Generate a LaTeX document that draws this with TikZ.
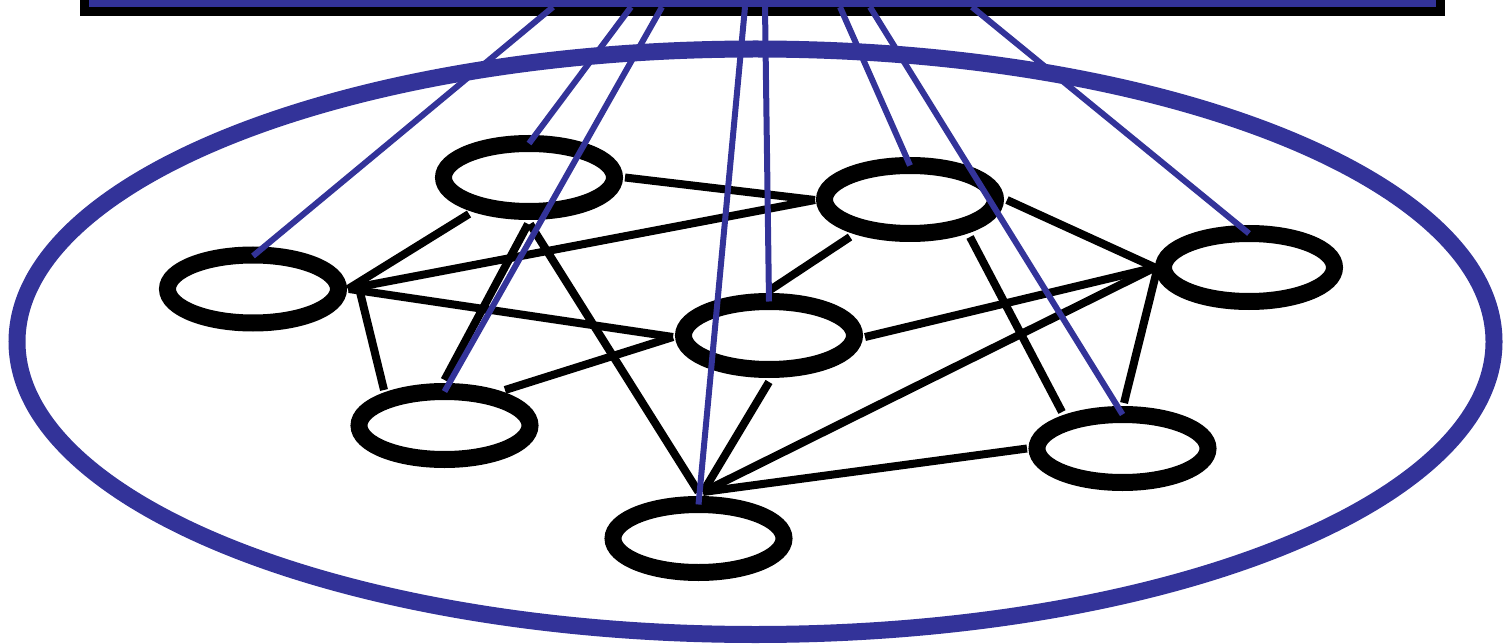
\documentclass[tikz,border=0pt]{standalone}
\usetikzlibrary{shapes.geometric,calc}
\definecolor{netblue}{RGB}{51,51,153}
\tikzset{
  host/.style={draw=black, ellipse, line width=17pt, minimum width=171pt, minimum height=68pt, inner sep=0pt},
  link/.style={draw=black, line width=8pt},
  tie/.style={draw=netblue, line width=6pt},
}
\begin{document}
\begin{tikzpicture}[x=1pt,y=-1pt]
\clip (0,0) rectangle (1504,644);
% big network ellipse
\node[draw=netblue, line width=17pt, ellipse, minimum width=1477pt, minimum height=585.5pt, inner sep=0pt] (net) at (755.5,341.75) {};
% top bar
\node[draw=black, fill=netblue, line width=9pt, rectangle, minimum width=1356pt, minimum height=60pt, inner sep=0pt, outer sep=0pt, anchor=south] (bar) at (762.5,11.3) {};
% hosts
\node[host] (A) at (253,289) {};
\node[host] (B) at (529,177.5) {};
\node[host] (C) at (910,199.5) {};
\node[host] (D) at (1249,267.5) {};
\node[host] (E) at (769,335.5) {};
\node[host] (F) at (444.5,425.5) {};
\node[host] (G) at (1122.5,448.5) {};
\node[host] (H) at (698.5,538.5) {};
% links
\draw[link] ($(B)+(96,0)$) -- ($(C)+(-95,0.5)$);
\draw[link] ($(B)+(-60,36.5)$) -- ($(A)+(95,0)$);
\draw[link] ($(A)+(95,0)$) -- ($(C)+(-95,0.5)$);
\draw[link] ($(A)+(96,0)$) -- ($(E)+(-96,1.5)$);
\draw[link] ($(A)+(107,3)$) -- ($(F)+(-60.5,-35.5)$);
\draw[link] ($(B)+(-1,46.5)$) -- ($(F)+(0,-45.5)$);
\draw[link] ($(B)+(1,46.5)$) -- ($(H)+(0,-46.5)$);
\draw[link] ($(C)+(-60,37.5)$) -- ($(E)+(1,-45.5)$);
\draw[link] ($(C)+(97,0.5)$) -- ($(D)+(-94,0)$);
\draw[link] ($(C)+(60,37.5)$) -- ($(G)+(-60.5,-36.5)$);
\draw[link] ($(E)+(96,1.5)$) -- ($(D)+(-94,0)$);
\draw[link] ($(F)+(60.5,-35.5)$) -- ($(E)+(-96,1.5)$);
\draw[link] ($(E)+(0,46.5)$) -- ($(H)+(4.5,-46.5)$);
\draw[link] ($(H)+(4.5,-46.5)$) -- ($(D)+(-94,0)$);
\draw[link] ($(H)+(4.5,-46.5)$) -- ($(G)+(-95.5,0)$);
\draw[link] ($(D)+(-92,2.5)$) -- ($(G)+(1.5,-45.5)$);
% ties to the bar
\coordinate (t1) at (553,7);
\coordinate (t2) at (631,7);
\coordinate (t3) at (662,7);
\coordinate (t4) at (745,7);
\coordinate (t5) at (765,7);
\coordinate (t6) at (840,7);
\coordinate (t7) at (870,7);
\coordinate (t8) at (972,7);
\draw[tie] (t1) -- ($(A)+(0,-33)$);
\draw[tie] (t2) -- ($(B)+(0,-34)$);
\draw[tie] (t3) -- ($(F)+(0,-34)$);
\draw[tie] (t4) -- ($(H)+(0,-34)$);
\draw[tie] (t5) -- ($(E)+(0,-34)$);
\draw[tie] (t6) -- ($(C)+(0,-34)$);
\draw[tie] (t7) -- ($(G)+(0,-34)$);
\draw[tie] (t8) -- ($(D)+(0,-34)$);
\end{tikzpicture}
\end{document}
